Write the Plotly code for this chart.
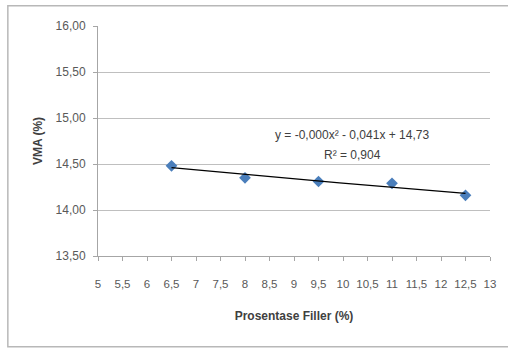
import numpy as np
import plotly.graph_objects as go

filler = [6.5, 8, 9.5, 11, 12.5]
vma = [14.48, 14.35, 14.31, 14.29, 14.16]

x_ticks = [5, 5.5, 6, 6.5, 7, 7.5, 8, 8.5, 9, 9.5, 10, 10.5, 11, 11.5, 12, 12.5, 13]
x_ticktext = ["5", "5,5", "6", "6,5", "7", "7,5", "8", "8,5", "9", "9,5", "10", "10,5", "11", "11,5", "12", "12,5", "13"]
y_ticks = [13.5, 14.0, 14.5, 15.0, 15.5, 16.0]
y_ticktext = ["13,50", "14,00", "14,50", "15,00", "15,50", "16,00"]

equation = "y = -0,000x² - 0,041x + 14,73"
r2_text = "R² = 0,904"

coef = np.polyfit(filler, vma, 2)
xt = np.linspace(min(filler), max(filler), 50)
yt = np.polyval(coef, xt)

FONT = "Liberation Sans, Arial, sans-serif"

fig = go.Figure()
fig.add_trace(go.Scatter(x=filler, y=vma, mode="markers",
                         marker=dict(symbol="diamond", size=9, color="#4a7ebb"),
                         showlegend=False))
fig.add_trace(go.Scatter(x=xt, y=yt, mode="lines",
                         line=dict(color="black", width=1.3), showlegend=False))

fig.add_annotation(x=0.648, y=0.525, xref="paper", yref="paper", text=equation,
                   showarrow=False, font=dict(size=12, color="#404040", family=FONT))
fig.add_annotation(x=0.648, y=0.44, xref="paper", yref="paper", text=r2_text,
                   showarrow=False, font=dict(size=12, color="#404040", family=FONT))

fig.add_shape(type="rect", xref="paper", yref="paper",
              x0=-0.23, x1=1.06, y0=-0.395, y1=1.088,
              line=dict(color="#b8b8b8", width=1.5))

fig.update_layout(
    width=508, height=349,
    margin=dict(l=98, r=18, t=26, b=93),
    paper_bgcolor="white", plot_bgcolor="white",
    font=dict(family=FONT, size=12, color="#595959"),
    xaxis=dict(range=[5, 13], tickvals=x_ticks, ticktext=x_ticktext,
               tickfont=dict(size=11.5),
               showgrid=False, zeroline=False, showline=True, linecolor="#a6a6a6",
               ticks="outside", ticklen=4, tickcolor="#a6a6a6",
               ticklabelstandoff=13,
               title=dict(text="<b>Prosentase Filler (%)</b>", standoff=22,
                          font=dict(size=12, color="#404040", family=FONT))),
    yaxis=dict(range=[13.5, 16.0], tickvals=y_ticks, ticktext=y_ticktext,
               tickfont=dict(size=12),
               showgrid=True, gridcolor="#bfbfbf", zeroline=False,
               showline=True, linecolor="#a6a6a6", ticks="outside", ticklen=4,
               tickcolor="#a6a6a6", ticklabelstandoff=5,
               title=dict(text="<b>VMA (%)</b>", standoff=10,
                          font=dict(size=12, color="#404040", family=FONT))),
)

fig.write_html("out.html")
